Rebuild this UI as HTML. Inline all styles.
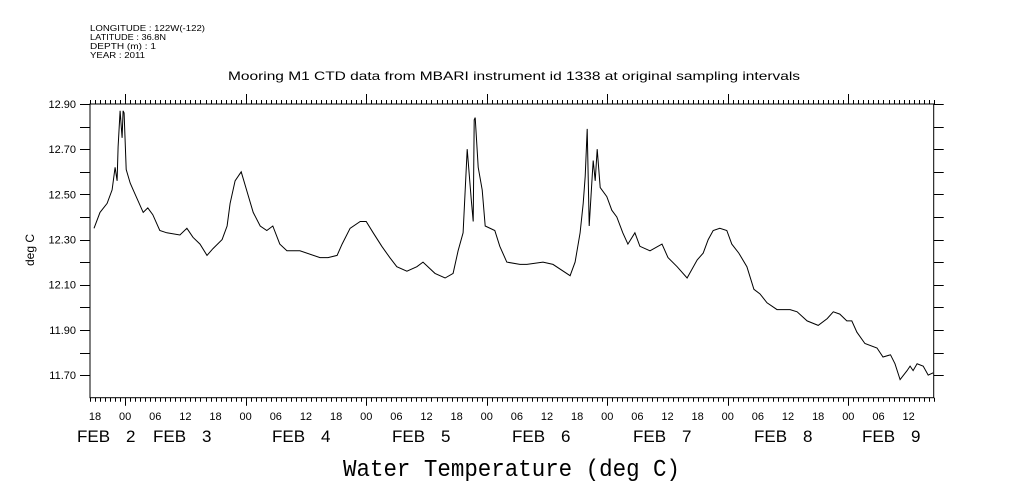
<!DOCTYPE html>
<html><head><meta charset="utf-8"><style>
body{margin:0;background:#fff;}
svg{display:block;font-family:"Liberation Sans",sans-serif;}
</style></head><body>
<svg id="chart" width="1009" height="504" viewBox="0 0 1009 504">
<g font-size="8" fill="#000">
<text x="90" y="31" textLength="115" lengthAdjust="spacingAndGlyphs">LONGITUDE : 122W(-122)</text>
<text x="90" y="40" textLength="76" lengthAdjust="spacingAndGlyphs">LATITUDE : 36.8N</text>
<text x="90" y="49" textLength="66" lengthAdjust="spacingAndGlyphs">DEPTH (m) : 1</text>
<text x="90" y="58" textLength="55" lengthAdjust="spacingAndGlyphs">YEAR : 2011</text>
</g>
<text x="228" y="80" font-size="12" textLength="572" lengthAdjust="spacingAndGlyphs">Mooring M1 CTD data from MBARI instrument id 1338 at original sampling intervals</text>
<text transform="translate(34,250) rotate(-90)" font-size="12" text-anchor="middle">deg C</text>
<text x="343" y="476" font-family="'Liberation Mono','DejaVu Sans Mono',monospace" font-size="24" textLength="337" lengthAdjust="spacingAndGlyphs">Water Temperature (deg C)</text>
<g id="axes"></g>
<g id="series"></g>
</svg>
<script>
const hours = [0.8,2.0,3.4,4.4,5.0,5.4,5.6,6.0,6.4,6.6,6.8,7.2,8.0,8.6,10.6,11.5,12.5,13.9,15.3,17.9,19.3,20.5,21.9,23.3,24.5,26.3,27.3,27.9,28.9,30.1,31.3,32.5,33.9,35.2,36.4,37.8,39.2,41.8,45.8,47.4,49.2,50.2,51.8,53.8,55.0,56.4,58.1,59.7,61.1,63.1,65.1,66.3,68.7,70.7,72.3,73.3,74.3,75.1,75.9,76.3,76.5,76.7,77.3,78.1,78.7,80.6,81.6,83.0,85.6,87.0,90.2,92.2,95.6,96.6,97.6,98.2,98.6,99.0,99.4,100.0,100.2,100.6,101.0,101.6,102.9,103.9,104.9,106.1,107.1,108.5,109.5,111.5,113.9,115.1,116.9,118.9,120.9,122.1,123.1,124.1,125.4,126.8,127.8,129.2,130.8,132.2,133.4,134.8,136.8,139.4,140.8,142.8,145.0,146.8,148.0,149.3,150.7,151.7,152.7,154.3,156.7,157.9,159.4,160.3,161.3,162.7,163.3,163.9,164.7,165.9,166.9,167.9];
const temps = [12.35,12.42,12.46,12.52,12.62,12.56,12.71,12.87,12.75,12.87,12.86,12.61,12.55,12.52,12.42,12.44,12.41,12.34,12.33,12.32,12.35,12.31,12.28,12.23,12.26,12.30,12.36,12.46,12.56,12.60,12.51,12.42,12.36,12.34,12.36,12.28,12.25,12.25,12.22,12.22,12.23,12.28,12.35,12.38,12.38,12.33,12.27,12.22,12.18,12.16,12.18,12.20,12.15,12.13,12.15,12.25,12.33,12.70,12.48,12.38,12.83,12.84,12.62,12.52,12.36,12.34,12.27,12.20,12.19,12.19,12.20,12.19,12.14,12.20,12.33,12.46,12.58,12.79,12.36,12.58,12.65,12.56,12.70,12.53,12.49,12.43,12.40,12.33,12.28,12.33,12.27,12.25,12.28,12.22,12.18,12.13,12.21,12.24,12.30,12.34,12.35,12.34,12.28,12.24,12.18,12.08,12.06,12.02,11.99,11.99,11.98,11.94,11.92,11.95,11.98,11.97,11.94,11.94,11.89,11.84,11.82,11.78,11.79,11.75,11.68,11.72,11.74,11.72,11.75,11.74,11.70,11.71];
const yTickLabels = ["11.70","11.90","12.10","12.30","12.50","12.70","12.90"];
const hourLabels = ["18","00","06","12"];
const dayNums = ["2","3","4","5","6","7","8","9"];

const L=90,R=933.7,T=104,B=397.7,H0=0,H1=168,V0=11.60,V1=12.90;
const sx=h=>L+(h-H0)/(H1-H0)*(R-L);
const sy=v=>B-(v-V0)/(V1-V0)*(B-T);
const NS="http://www.w3.org/2000/svg";
const axes=document.getElementById('axes');
function mk(tag,attrs,parent){const e=document.createElementNS(NS,tag);for(const k in attrs)e.setAttribute(k,attrs[k]);parent.appendChild(e);return e;}

const frame=mk('rect',{x:L,y:T,width:R-L,height:B-T,fill:'none',stroke:'#000','stroke-width':1},axes);



for(let h=0;h<=168;h++){
  const x=Math.round(sx(h))+0.5;
  const major=((h-7)%24===0);
  const t1=mk('line',{x1:x,x2:x,y1:T,y2:T-(major?10:4),stroke:'#000'},axes);
  
  
  const t2=mk('line',{x1:x,x2:x,y1:B,y2:B+(major?8:4),stroke:'#000'},axes);
  
  
}
for(let k=0;1+6*k<=167;k++){
  const t=mk('text',{x:sx(1+6*k),y:420,'font-size':11,'text-anchor':'middle'},axes);
  t.textContent=hourLabels[k%4];
  
  
}
const dayX=[77,153,272,392,512,633,754,862];
dayNums.forEach((d,i)=>{
  const f=mk('text',{x:dayX[i],y:442,'font-size':17},axes);
  f.textContent='FEB';
  
  
  const n=mk('text',{x:dayX[i]+49,y:442,'font-size':17},axes);
  n.textContent=d;
  
  
});
for(let i=0;i<=12;i++){
  const v=11.70+i*0.1;const y=Math.round(sy(v))+0.5;
  const a=mk('line',{x1:L-10,x2:L,y1:y,y2:y,stroke:'#000'},axes);
  
  
  const b=mk('line',{x1:R,x2:R+10,y1:y,y2:y,stroke:'#000'},axes);
  
  
}
yTickLabels.forEach(s=>{
  const t=mk('text',{x:76,y:sy(parseFloat(s))+4,'font-size':11,'text-anchor':'end'},axes);
  t.textContent=s;
  
  
});
const pts=hours.map((h,i)=>sx(h).toFixed(1)+','+sy(temps[i]).toFixed(1)).join(' ');
const line=mk('polyline',{points:pts,fill:'none',stroke:'#000','stroke-width':1},document.getElementById('series'));


</script>
</body></html>
